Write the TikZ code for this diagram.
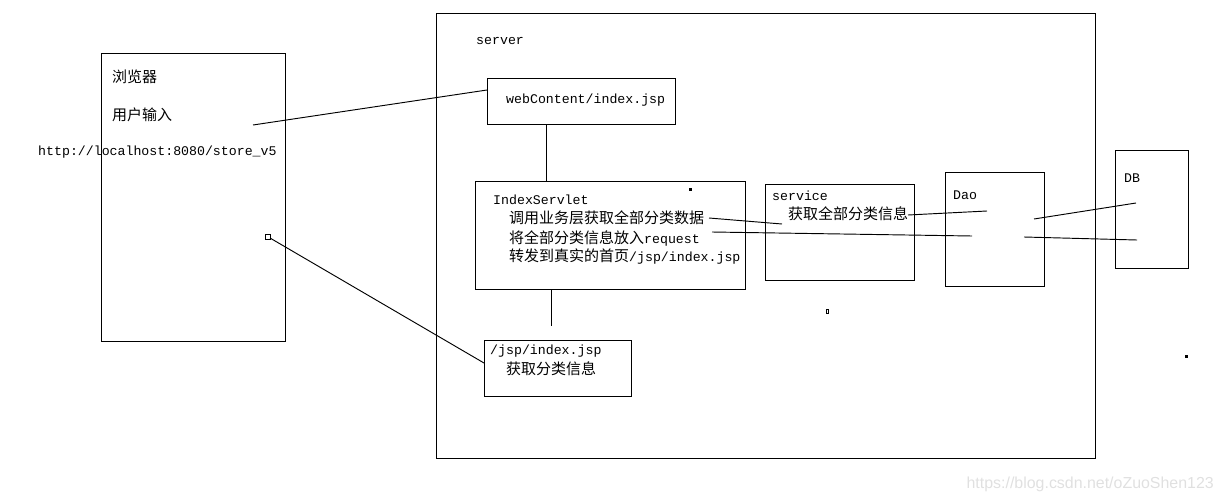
\documentclass[tikz,border=0pt]{standalone}
\usepackage{fontspec}
\setmonofont{Liberation Mono}
\newfontfamily\cjk{Noto Sans CJK SC}
\newfontfamily\wmfont{Liberation Sans}
\newcommand{\zh}[1]{{\cjk\fontsize{12.8}{14}\selectfont #1}}
\tikzset{
  lbl/.style={anchor=west, inner sep=0pt, font=\fontsize{11.3}{13}\selectfont\ttfamily},
  box/.style={line width=0.8pt},
  wire/.style={line width=0.8pt}
}
\begin{document}
\begin{tikzpicture}[x=0.03cm, y=-0.03cm]
  \useasboundingbox (0,0) rectangle (1222,502);

  % Cajas
  \draw[box] (101,53)   rectangle (285,341);   % browser
  \draw[box] (436,13)   rectangle (1095,458);  % server
  \draw[box] (487,78)   rectangle (675,124);   % webContent
  \draw[box] (475,181)  rectangle (745,289);   % IndexServlet
  \draw[box] (765,184)  rectangle (914,280);   % service
  \draw[box] (945,172)  rectangle (1044,286);  % Dao
  \draw[box] (1115,150) rectangle (1188,268);  % DB
  \draw[box] (484,340)  rectangle (631,396);   % jsp

  % Textos
  \node[lbl] (browser) at (112,77)  {\zh{浏览器}};
  \node[lbl] (input)   at (112,115) {\zh{用户输入}};
  \node[lbl] (url)     at (38,152)  {http://localhost:8080/store\_v5};
  \node[lbl] (server)  at (476,41)  {server};
  \node[lbl] (web)     at (506,100) {webContent/index.jsp};
  \node[lbl] (servlet) at (493,200) {IndexServlet};
  \node[lbl] (call)    at (509,218) {\zh{调用业务层获取全部分类数据}};
  \node[lbl] (put)     at (509,238) {\zh{将全部分类信息放入}request};
  \node[lbl] (fwd)     at (509,257) {\zh{转发到真实的首页}/jsp/index.jsp};
  \node[lbl] (service) at (772,196) {service};
  \node[lbl] (get)     at (788,214) {\zh{获取全部分类信息}};
  \node[lbl] (dao)     at (953,195) {Dao};
  \node[lbl] (db)      at (1124,178) {DB};
  \node[lbl] (jsp)     at (490,351) {/jsp/index.jsp};
  \node[lbl] (show)    at (506,369) {\zh{获取分类信息}};

  % Puntos de las lineas
  \coordinate (b1) at (253,125);  \coordinate (w1) at (487,90);
  \coordinate (w2) at (546,124);  \coordinate (s1) at (546,181);
  \coordinate (s2) at (551,289);  \coordinate (j0) at (551,326);
  \coordinate (b2) at (270,238);  \coordinate (j1) at (484,363);
  \coordinate (c1) at (709,218);  \coordinate (c2) at (782,224);
  \coordinate (p1) at (712,232);  \coordinate (p2) at (972,236);
  \coordinate (g1) at (908,215);  \coordinate (g2) at (987,211);
  \coordinate (d1) at (1034,219); \coordinate (e1) at (1136,203);
  \coordinate (d2) at (1024,237); \coordinate (e2) at (1137,240);

  % Lineas
  \draw[wire] (b1) -- (w1);
  \draw[wire] (w2) -- (s1);
  \draw[wire] (s2) -- (j0);
  \draw[wire] (b2) -- (j1);
  \draw[wire] (c1) -- (c2);
  \draw[wire] (p1) -- (p2);
  \draw[wire] (g1) -- (g2);
  \draw[wire] (d1) -- (e1);
  \draw[wire] (d2) -- (e2);

  % Marcas sueltas
  \draw[line width=0.6pt] (265,234) rectangle (270,239);
  \fill (689,188) rectangle (692,191);
  \draw[line width=0.6pt] (826,309) rectangle (828,313);
  \fill (1185,355) rectangle (1188,358);

  % Marca de agua
  \node[anchor=east, inner sep=0pt, text=black!12, font=\fontsize{13.6}{15}\wmfont] (mark) at (1214,484) {https://blog.csdn.net/oZuoShen123};
\end{tikzpicture}
\end{document}
